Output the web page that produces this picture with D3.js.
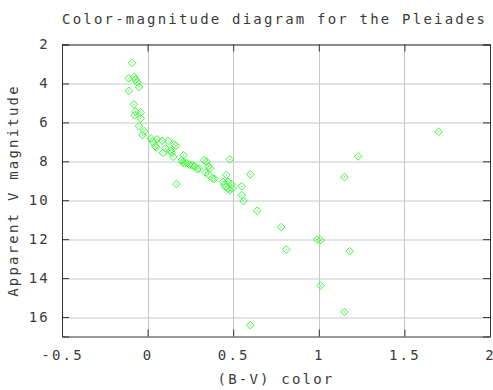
<!DOCTYPE html>
<html>
<head>
<meta charset="utf-8">
<script src="https://cdn.jsdelivr.net/npm/d3@7"></script>
<style>
  body { margin: 0; background: #fff; }
  text { font-family: "DejaVu Sans Mono", monospace; font-size: 14px; fill: #3a3a3a; letter-spacing: 2.2px; }
</style>
</head>
<body>
<div id="chart"></div>
<script>
// (B-V) colour index and apparent V magnitude of the stars
var bvColor = [-0.09, -0.11, -0.08, -0.07, -0.06, -0.05, -0.11, -0.08, -0.07, -0.04,
    -0.075, -0.04, -0.05, -0.02, -0.03, 0.02, 0.03, 0.055, 0.045, 0.085,
    0.12, 0.155, 0.05, 0.105, 0.09, 0.135, 0.14, 0.15, 0.165, 0.21,
    0.20, 0.205, 0.215, 0.23, 0.245, 0.26, 0.275, 0.29, 0.30, 0.33,
    0.345, 0.355, 0.365, 0.34, 0.355, 0.38, 0.39, 0.48, 0.46, 0.44,
    0.47, 0.45, 0.49, 0.455, 0.48, 0.495, 0.47, 0.168, 0.55, 0.60,
    0.55, 0.56, 0.64, 0.78, 0.81, 0.99, 1.01, 1.18, 1.01, 1.15,
    0.60, 1.15, 1.23, 1.70];
var vMag = [2.94, 3.74, 3.66, 3.80, 3.94, 4.18, 4.38, 5.08, 5.45, 5.49,
    5.64, 5.80, 6.19, 6.45, 6.65, 6.82, 7.00, 6.87, 7.22, 6.94,
    6.95, 7.13, 7.29, 7.34, 7.57, 7.45, 7.55, 7.78, 7.20, 7.68,
    7.94, 8.05, 8.11, 8.10, 8.18, 8.20, 8.25, 8.40, 8.37, 7.94,
    8.02, 8.25, 8.37, 8.58, 8.68, 8.88, 8.90, 7.90, 8.70, 9.05,
    9.05, 9.20, 9.17, 9.32, 9.48, 9.39, 9.40, 9.17, 9.28, 8.67,
    9.74, 10.04, 10.54, 11.38, 12.53, 12.02, 12.05, 12.62, 14.38, 15.74,
    16.42, 8.81, 7.75, 6.48];

var xTicks = [-0.5, 0, 0.5, 1, 1.5, 2];
var yTicks = [2, 4, 6, 8, 10, 12, 14, 16];

var margin = {top: 44.5, right: 3, bottom: 53.5, left: 62},
    width = 493 - margin.left - margin.right,
    height = 390 - margin.top - margin.bottom;

var svg = d3.select("#chart").append("svg")
    .attr("width", 493)
    .attr("height", 390);

var g = svg.append("g")
    .attr("transform", "translate(" + margin.left + "," + margin.top + ")");

var x = d3.scaleLinear().domain([-0.5, 2]).range([0, width]);
var y = d3.scaleLinear().domain([2, 17]).range([0, height]);

// grid
g.selectAll(".vgrid")
    .data(xTicks)
    .enter().append("line")
    .attr("x1", d => Math.round(x(d)) + 0.5)
    .attr("x2", d => Math.round(x(d)) + 0.5)
    .attr("y1", 0).attr("y2", height)
    .attr("stroke", "#c8c8c8");

g.selectAll(".hgrid")
    .data(yTicks)
    .enter().append("line")
    .attr("y1", d => Math.round(y(d)) + 0.5)
    .attr("y2", d => Math.round(y(d)) + 0.5)
    .attr("x1", 0).attr("x2", width)
    .attr("stroke", "#c8c8c8");

// axes, ticks pointing inward
g.append("g")
    .attr("transform", "translate(0," + height + ")")
    .call(d3.axisBottom(x).tickValues(xTicks).tickSize(-7).tickPadding(14)
        .tickFormat(d => String(d)));

g.append("g")
    .call(d3.axisTop(x).tickValues(xTicks).tickSize(-7).tickFormat(""));

g.append("g")
    .call(d3.axisLeft(y).tickValues(yTicks).tickSize(-7).tickPadding(12));

g.append("g")
    .attr("transform", "translate(" + width + ",0)")
    .call(d3.axisRight(y).tickValues(yTicks).tickSize(-7).tickFormat(""));

g.selectAll(".domain").attr("stroke", "#333");
g.selectAll(".tick line").attr("stroke", "#333");
g.selectAll(".tick text")
    .attr("fill", "#3a3a3a")
    .style("font-family", "'DejaVu Sans Mono', monospace")
    .style("font-size", "14px");

// points: hollow diamonds with a centre dot
var stars = d3.range(bvColor.length);

g.selectAll(".star")
    .data(stars)
    .enter().append("path")
    .attr("d", function(i) {
        var cx = x(bvColor[i]), cy = y(vMag[i]), r = 3.8;
        return "M" + cx + "," + (cy - r) + "L" + (cx + r) + "," + cy +
            "L" + cx + "," + (cy + r) + "L" + (cx - r) + "," + cy + "Z";
    })
    .attr("fill", "none")
    .attr("stroke", "#33ff33")
    .attr("stroke-width", 1);

g.selectAll(".dot")
    .data(stars)
    .enter().append("rect")
    .attr("x", i => x(bvColor[i]) - 0.5)
    .attr("y", i => y(vMag[i]) - 0.5)
    .attr("width", 1).attr("height", 1)
    .attr("fill", "#33ff33");

// labels
svg.append("text")
    .attr("x", 62)
    .attr("y", 24)
    .text("Color-magnitude diagram for the Pleiades");

svg.append("text")
    .attr("x", 276)
    .attr("y", 384)
    .attr("text-anchor", "middle")
    .text("(B-V) color");

svg.append("text")
    .attr("transform", "translate(18," + (margin.top + height / 2) + ") rotate(-90)")
    .attr("text-anchor", "middle")
    .text("Apparent V magnitude");
</script>
</body>
</html>
